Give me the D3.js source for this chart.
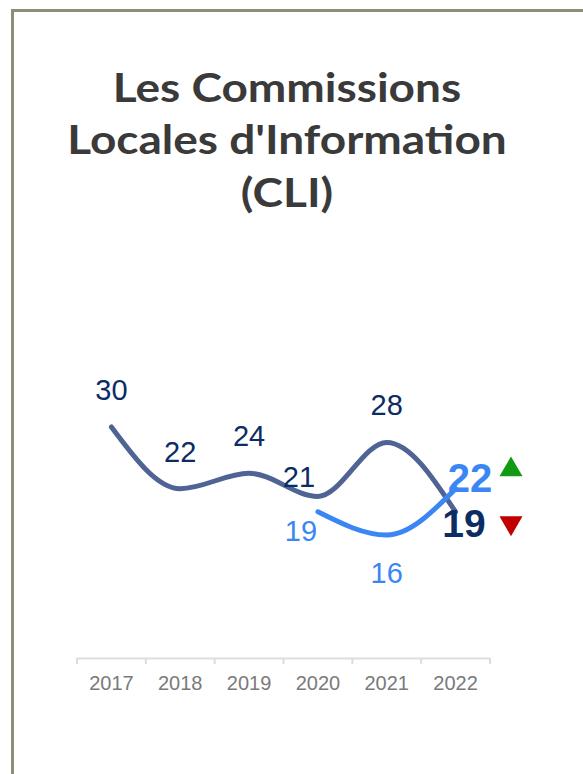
<!DOCTYPE html>
<html>
<head>
<meta charset="utf-8">
<script src="https://cdn.jsdelivr.net/npm/d3@7"></script>
<style>
  body { margin: 0; background: #fff; }
  svg { display: block; }
</style>
</head>
<body>
<div id="chart"></div>
<script>
// data
var years = ["2017", "2018", "2019", "2020", "2021", "2022"];
var cliValues = [30, 22, 24, 21, 28, 19];
var newYears = ["2020", "2021", "2022"];
var newValues = [19, 16, 22];
var titleLines = ["Les Commissions", "Locales d'Information", "(CLI)"];

var width = 583;
var height = 774;

var svg = d3.select("#chart").append("svg")
    .attr("width", width)
    .attr("height", height);

// frame (top + left only)
svg.append("line").attr("x1", 11).attr("x2", width).attr("y1", 10.5).attr("y2", 10.5)
    .attr("stroke", "#8d8d78").attr("stroke-width", 3);
svg.append("line").attr("x1", 12.5).attr("x2", 12.5).attr("y1", 9).attr("y2", height)
    .attr("stroke", "#8d8d78").attr("stroke-width", 3);

// title - original font is a wide geometric face, so stretch Lato horizontally
var stretch = 1.15;
svg.append("g")
    .attr("transform", "translate(287,0) scale(" + stretch + ",1)")
    .selectAll("text")
    .data(titleLines)
    .enter().append("text")
    .attr("x", 0)
    .attr("y", (d, i) => 102 + i * 52.5)
    .attr("text-anchor", "middle")
    .attr("font-family", "Lato, 'Open Sans', sans-serif")
    .attr("font-weight", "bold")
    .attr("font-size", 40)
    .attr("fill", "#3a3a3a")
    .text(d => d);

var x = d3.scaleBand().domain(years).range([77, 490]);
var y = d3.scaleLinear().domain([16, 30]).range([535, 427]);
var cx = d => x(d) + x.bandwidth() / 2;

// axis
var axis = svg.append("g");
axis.append("line")
    .attr("x1", 77).attr("x2", 490).attr("y1", 658.5).attr("y2", 658.5)
    .attr("stroke", "#dddddd").attr("stroke-width", 2);
var bounds = years.map(d => x(d)).concat([x(years[years.length - 1]) + x.bandwidth()]);
axis.selectAll("line.tick").data(bounds).enter().append("line")
    .attr("class", "tick")
    .attr("x1", d => d).attr("x2", d => d)
    .attr("y1", 658).attr("y2", 664)
    .attr("stroke", "#dddddd").attr("stroke-width", 2);
axis.selectAll("text").data(years).enter().append("text")
    .attr("x", d => cx(d))
    .attr("y", 690)
    .attr("text-anchor", "middle")
    .attr("font-family", "'Liberation Sans', Arial, sans-serif")
    .attr("font-size", 20)
    .attr("fill", "#7a7a7a")
    .text(d => d);

var line = d3.line().curve(d3.curveMonotoneX);

var cliPts = years.map((d, i) => [cx(d), y(cliValues[i])]);
var newPts = newYears.map((d, i) => [cx(d), y(newValues[i])]);

svg.append("path")
    .attr("d", line(cliPts))
    .attr("fill", "none")
    .attr("stroke", "#4f6494")
    .attr("stroke-width", 5)
    .attr("stroke-linecap", "round");

svg.append("path")
    .attr("d", line(newPts))
    .attr("fill", "none")
    .attr("stroke", "#3a86f5")
    .attr("stroke-width", 5)
    .attr("stroke-linecap", "round");

// label nudges where the labels collide with the lines
var nudge = { "cli-2020": [-19, 18], "new-2020": [-17, 0] };

var last = years.length - 1;
svg.append("g").selectAll("text")
    .data(cliValues.slice(0, last))
    .enter().append("text")
    .attr("x", (d, i) => cx(years[i]) + (nudge["cli-" + years[i]] || [0, 0])[0])
    .attr("y", (d, i) => y(d) - 27 + (nudge["cli-" + years[i]] || [0, 0])[1])
    .attr("text-anchor", "middle")
    .attr("font-family", "'Liberation Sans', Arial, sans-serif")
    .attr("font-size", 29)
    .attr("fill", "#0c2c64")
    .text(d => d);

svg.append("g").selectAll("text")
    .data(newValues.slice(0, newValues.length - 1))
    .enter().append("text")
    .attr("x", (d, i) => cx(newYears[i]) + (nudge["new-" + newYears[i]] || [0, 0])[0])
    .attr("y", (d, i) => i === 0 ? y(d) + 29 : y(d) + 48)
    .attr("text-anchor", "middle")
    .attr("font-family", "'Liberation Sans', Arial, sans-serif")
    .attr("font-size", 29)
    .attr("fill", "#3a86f5")
    .text(d => d);

// final values, big and bold
var lastNew = newValues[newValues.length - 1];
var lastCli = cliValues[last];
svg.append("text")
    .attr("x", 470).attr("y", y(lastNew) + 3)
    .attr("text-anchor", "middle")
    .attr("font-family", "'Liberation Sans', Arial, sans-serif")
    .attr("font-weight", "bold")
    .attr("font-size", 40)
    .attr("fill", "#3a86f5")
    .text(lastNew);
svg.append("text")
    .attr("x", 464).attr("y", y(lastCli) + 25)
    .attr("text-anchor", "middle")
    .attr("font-family", "'Liberation Sans', Arial, sans-serif")
    .attr("font-weight", "bold")
    .attr("font-size", 39)
    .attr("fill", "#0c2c64")
    .text(lastCli);

// trend arrows
var tri = d3.symbol().type(d3.symbolTriangle).size(230);
svg.append("path")
    .attr("d", tri())
    .attr("transform", "translate(511," + (y(lastNew) - 19) + ")")
    .attr("fill", "#129a12");
svg.append("path")
    .attr("d", tri())
    .attr("transform", "translate(511," + (y(lastCli) + 11) + ") rotate(180)")
    .attr("fill", "#c00000");
</script>
</body>
</html>
